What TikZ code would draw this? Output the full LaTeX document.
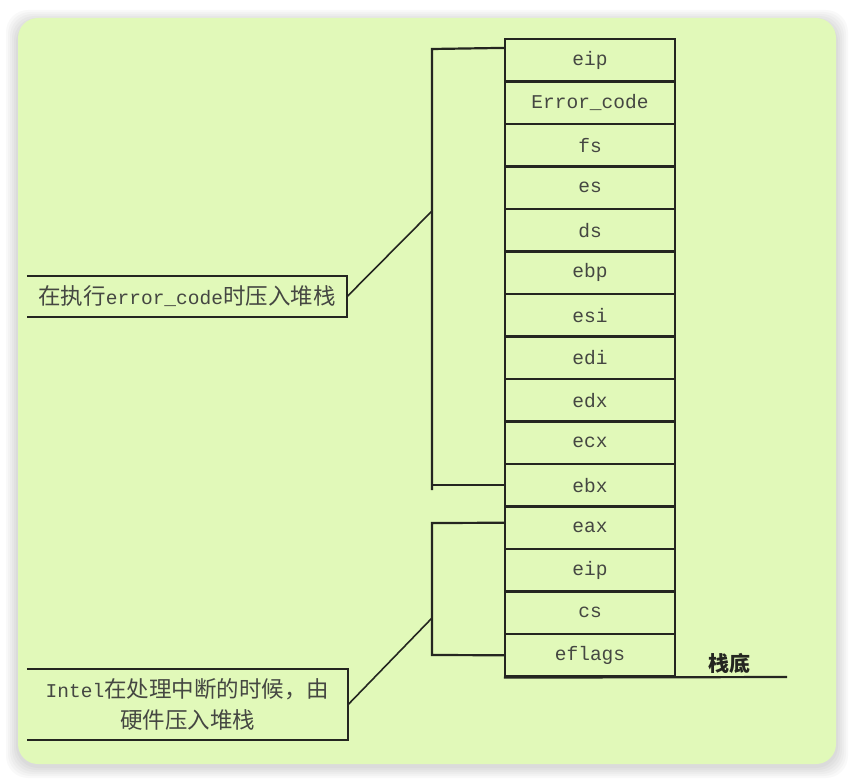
\documentclass[tikz,border=0pt]{standalone}
\usepackage{fontspec}
\setmonofont{Liberation Mono}
\newfontfamily\cjk{Noto Sans CJK SC}
\usetikzlibrary{calc}
\definecolor{panel}{RGB}{225,249,185}
\definecolor{ink}{RGB}{36,38,32}
% Latin runs inside the Chinese labels are set half-width in a mono face
\newcommand{\lat}[1]{{\ttfamily\fontsize{19.5}{20}\selectfont #1}}
\begin{document}
\begin{tikzpicture}[x=1pt,y=-1pt,
  cell/.style={draw=ink,line width=2.2pt,minimum width=170pt,minimum height=42.5pt,
    inner sep=0pt,font=\ttfamily\fontsize{19.5}{21}\selectfont,text=ink!85},
  wire/.style={draw=ink,line width=2.2pt},
  note/.style={inner sep=0pt,font=\cjk\fontsize{22.5}{31}\selectfont,text=ink!85,align=center}]
  % page and soft shadow
  \useasboundingbox (0,0) rectangle (853,781);
  \fill[white] (0,0) rectangle (853,781);
  \foreach \s in {12,10,8,6,4,2}
    \fill[black,opacity=0.025,rounded corners=22pt] (18-\s,22-\s) rectangle (836+\s,766+\s);
  \fill[panel,rounded corners=20pt] (18,18) rectangle (836,764);

  % stack cells, top to bottom
  \foreach \t [count=\i] in {eip,Error\_code,fs,es,ds,ebp,esi,edi,edx,ecx,ebx,eax,eip,cs,eflags}
    \node[cell] (r\i) at (590,{39+42.5*(\i-0.5)}) {\t};

  % bottom-of-stack line and label
  \coordinate (base) at (787,677);
  \draw[wire] (r15.south west) -- (base);
  \node[inner sep=0pt,font=\cjk\bfseries\fontsize{21}{23}\selectfont,text=ink] (bottom) at (729,663) {栈底};

  % label boxes (open on the left)
  \node[note,minimum width=320pt,minimum height=41pt] (sw) at (187,296.5) {在执行\lat{error\_code}时压入堆栈};
  \draw[wire] (sw.north west) -- (sw.north east) -- (sw.south east) -- (sw.south west);
  \node[note,minimum width=321pt,minimum height=71pt] (hw) at (187.5,704.5) {\lat{Intel}在处理中断的时候，由\\硬件压入堆栈};
  \draw[wire] (hw.north west) -- (hw.north east) -- (hw.south east) -- (hw.south west);

  % bracket over the software-saved registers
  \coordinate (sa) at (432,49);
  \coordinate (sb) at (432,490);
  \coordinate (sm) at (432,211);
  \draw[wire] ($(r1.north west)+(0,10)$) -- (sa) -- (sb);
  \draw[wire] (r11.west) -- (r11.west -| sa);
  \draw[wire,line width=1.6pt] (sw.east) -- (sm);

  % bracket over the hardware-saved registers
  \coordinate (ha) at (432,523);
  \coordinate (hb) at (432,655);
  \coordinate (hm) at (432,618);
  \draw[wire] ($(r12.west)+(0,-5)$) -- (ha) -- (hb) -- (r15.west);
  \draw[wire,line width=1.6pt] (hw.east) -- (hm);
\end{tikzpicture}
\end{document}
